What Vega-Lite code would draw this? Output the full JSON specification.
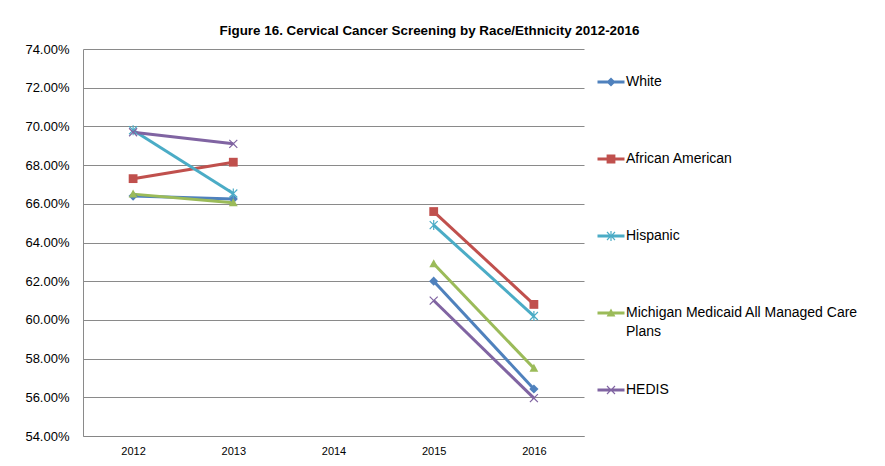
{
  "$schema": "https://vega.github.io/schema/vega-lite/v6.json",
  "width": 501,
  "height": 387,
  "autosize": {"type": "none"},
  "padding": {"left": 83, "top": 49, "right": 301, "bottom": 30},
  "background": "white",
  "config": {
    "font": "Liberation Sans",
    "view": {"stroke": null},
    "legend": {"labelFont": "Liberation Sans", "labelFontSize": 14, "labelColor": "black", "labelLimit": 400}
  },
  "title": {
    "text": "Figure 16. Cervical Cancer Screening by Race/Ethnicity 2012-2016",
    "fontSize": 13.4,
    "fontWeight": "bold",
    "color": "black",
    "anchor": "middle",
    "dx": 96,
    "offset": 6
  },
  "data": {
    "values": [
      {"series": "White", "year": "2012", "value": 0.664, "segment": "a"},
      {"series": "White", "year": "2013", "value": 0.6625, "segment": "a"},
      {"series": "White", "year": "2015", "value": 0.620, "segment": "b"},
      {"series": "White", "year": "2016", "value": 0.5643, "segment": "b"},
      {"series": "African American", "year": "2012", "value": 0.673, "segment": "a"},
      {"series": "African American", "year": "2013", "value": 0.6815, "segment": "a"},
      {"series": "African American", "year": "2015", "value": 0.656, "segment": "b"},
      {"series": "African American", "year": "2016", "value": 0.608, "segment": "b"},
      {"series": "Hispanic", "year": "2012", "value": 0.698, "segment": "a"},
      {"series": "Hispanic", "year": "2013", "value": 0.6653, "segment": "a"},
      {"series": "Hispanic", "year": "2015", "value": 0.649, "segment": "b"},
      {"series": "Hispanic", "year": "2016", "value": 0.602, "segment": "b"},
      {"series": "Michigan Medicaid All Managed Care Plans", "year": "2012", "value": 0.665, "segment": "a"},
      {"series": "Michigan Medicaid All Managed Care Plans", "year": "2013", "value": 0.6605, "segment": "a"},
      {"series": "Michigan Medicaid All Managed Care Plans", "year": "2015", "value": 0.629, "segment": "b"},
      {"series": "Michigan Medicaid All Managed Care Plans", "year": "2016", "value": 0.575, "segment": "b"},
      {"series": "HEDIS", "year": "2012", "value": 0.697, "segment": "a"},
      {"series": "HEDIS", "year": "2013", "value": 0.691, "segment": "a"},
      {"series": "HEDIS", "year": "2015", "value": 0.610, "segment": "b"},
      {"series": "HEDIS", "year": "2016", "value": 0.5596, "segment": "b"}
    ]
  },
  "encoding": {
    "x": {
      "field": "year",
      "type": "ordinal",
      "scale": {"type": "point", "domain": ["2012", "2013", "2014", "2015", "2016"], "padding": 0.5},
      "axis": {"title": null, "labelAngle": 0, "ticks": false, "domainColor": "#868686", "labelFontSize": 11, "labelColor": "black", "labelPadding": 9, "grid": false}
    },
    "y": {
      "field": "value",
      "type": "quantitative",
      "scale": {"domain": [0.54, 0.74], "nice": false, "zero": false},
      "axis": {
        "title": null,
        "values": [0.54, 0.56, 0.58, 0.60, 0.62, 0.64, 0.66, 0.68, 0.70, 0.72, 0.74],
        "format": ".2%",
        "ticks": false,
        "grid": true,
        "gridColor": "#8a8a8a",
        "domainColor": "#8a8a8a",
        "labelFontSize": 13,
        "labelColor": "black",
        "labelPadding": 14
      }
    },
    "color": {
      "field": "series",
      "type": "nominal",
      "scale": {
        "domain": ["White", "African American", "Hispanic", "Michigan Medicaid All Managed Care Plans", "HEDIS"],
        "range": ["#4F81BD", "#C0504D", "#4BACC6", "#9BBB59", "#8064A2"]
      },
      "legend": {
        "title": null,
        "orient": "none",
        "legendX": 521,
        "legendY": 26,
        "padding": 0,
        "symbolSize": 64,
        "symbolOpacity": 1,
        "symbolStrokeWidth": 0,
        "labelOffset": 8,
        "gridAlign": "all",
        "rowPadding": 44,
        "labelExpr": "datum.label == 'Michigan Medicaid All Managed Care Plans' ? ['Michigan Medicaid All Managed Care', 'Plans'] : datum.label",
        "encode": {
          "symbols": {
            "update": {
              "shape": {"signal": "'M-3.375,-0.375H3.375V0.375H-3.375Z' + scale('shape', datum.value)"},
              "fill": {"signal": "scale('color', datum.value)"}
            }
          },
          "labels": {"update": {"lineHeight": {"value": 19}}}
        }
      }
    }
  },
  "layer": [
    {
      "mark": {"type": "line", "strokeWidth": 3},
      "encoding": {"detail": {"field": "segment", "type": "nominal"}}
    },
    {
      "mark": {"type": "point", "filled": true, "opacity": 1, "size": 64},
      "encoding": {
        "shape": {
          "field": "series",
          "type": "nominal",
          "legend": null,
          "scale": {
            "domain": ["African American", "HEDIS", "Hispanic", "Michigan Medicaid All Managed Care Plans", "White"],
            "range": [
              "M-1.1,-1.1H1.1V1.1H-1.1Z",
              "M0.894,-1.106L1.106,-0.894L0.212,0L1.106,0.894L0.894,1.106L0,0.212L-0.894,1.106L-1.106,0.894L-0.212,0L-1.106,-0.894L-0.894,-1.106L0,-0.212Z",
              "M0.894,-1.106L1.106,-0.894L0.212,0L1.106,0.894L0.894,1.106L0,0.212L-0.894,1.106L-1.106,0.894L-0.212,0L-1.106,-0.894L-0.894,-1.106L0,-0.212ZM-0.15,-1.25H0.15V1.25H-0.15Z",
              "M0,-1.15L1.1,0.85H-1.1Z",
              "M0,-1.15L1.15,0L0,1.15L-1.15,0Z"
            ]
          }
        }
      }
    }
  ]
}
